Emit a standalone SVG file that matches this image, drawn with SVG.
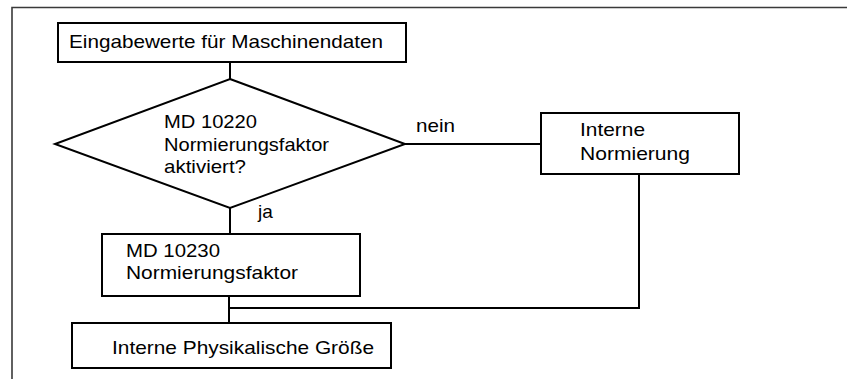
<svg xmlns="http://www.w3.org/2000/svg" width="847" height="379" viewBox="0 0 847 379">
  <style>
    .frame { fill: none; stroke: #3a3a3a; stroke-width: 1.6; }
    .box { fill: #ffffff; stroke: #000000; stroke-width: 2; }
    .wire { fill: none; stroke: #000000; stroke-width: 2; }
    text { font-family: "Liberation Sans", Arial, sans-serif; font-size: 19px; fill: #000000; }
  </style>
  <rect width="847" height="379" fill="#ffffff"/>

  <!-- page frame: top rule and left rule -->
  <path class="frame" d="M12 379 V7.5 H847"/>

  <!-- connectors -->
  <g id="connectors">
    <path class="wire" d="M230 62 V79"/>
    <path class="wire" d="M405 144 H541"/>
    <path class="wire" d="M230 208 V234"/>
    <path class="wire" d="M229 296 V323"/>
    <path class="wire" d="M639 174 V308 H229"/>
    <text x="416" y="131.5" textLength="39" lengthAdjust="spacingAndGlyphs">nein</text>
    <text x="258" y="218">ja</text>
  </g>

  <g id="input-values">
    <rect class="box" x="58" y="23" width="348" height="39"/>
    <text x="69" y="47.5" textLength="314" lengthAdjust="spacingAndGlyphs">Eingabewerte für Maschinendaten</text>
  </g>

  <g id="decision-md10220">
    <polygon class="box" points="230,79 405,144 230,208 55,144"/>
    <text x="164" y="128.3" textLength="93" lengthAdjust="spacingAndGlyphs">MD 10220</text>
    <text x="164" y="150.8" textLength="165" lengthAdjust="spacingAndGlyphs">Normierungsfaktor</text>
    <text x="164" y="173.3" textLength="82" lengthAdjust="spacingAndGlyphs">aktiviert?</text>
  </g>

  <g id="internal-normalization">
    <rect class="box" x="541" y="113" width="198" height="61"/>
    <text x="580" y="136" textLength="65" lengthAdjust="spacingAndGlyphs">Interne</text>
    <text x="580" y="160" textLength="110" lengthAdjust="spacingAndGlyphs">Normierung</text>
  </g>

  <g id="md10230-factor">
    <rect class="box" x="102" y="234" width="258" height="62"/>
    <text x="126" y="257" textLength="94" lengthAdjust="spacingAndGlyphs">MD 10230</text>
    <text x="126" y="279.3" textLength="172" lengthAdjust="spacingAndGlyphs">Normierungsfaktor</text>
  </g>

  <g id="internal-physical-quantity">
    <rect class="box" x="72" y="323" width="319" height="45"/>
    <text x="112" y="354.3" textLength="262" lengthAdjust="spacingAndGlyphs">Interne Physikalische Größe</text>
  </g>
</svg>
